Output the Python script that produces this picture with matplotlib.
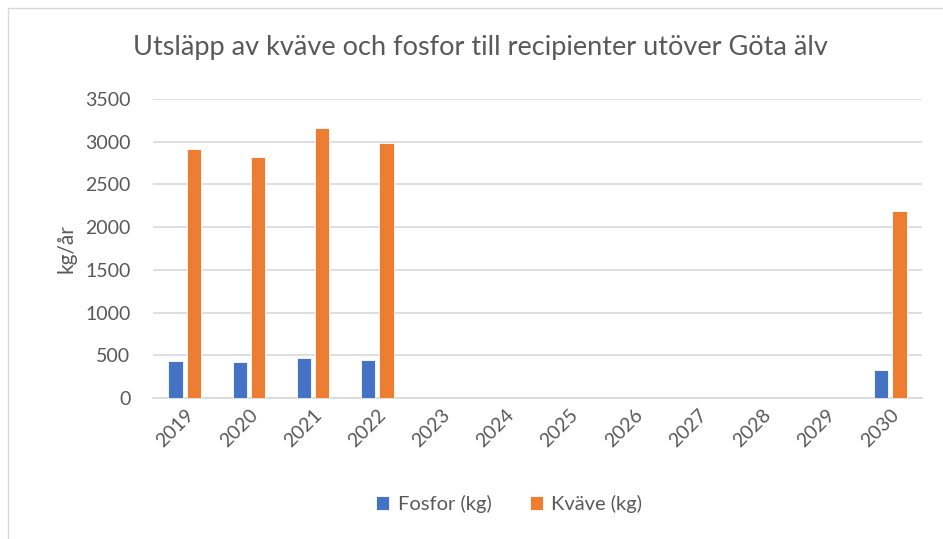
import numpy as np
import matplotlib.pyplot as plt
from matplotlib.patches import Rectangle

years = ['2019', '2020', '2021', '2022', '2023', '2024', '2025', '2026',
         '2027', '2028', '2029', '2030']
fosfor = [433, 417, 469, 441, 0, 0, 0, 0, 0, 0, 0, 322]
kvave = [2910, 2820, 3155, 2980, 0, 0, 0, 0, 0, 0, 0, 2185]

plt.rcParams['font.family'] = ['Lato', 'DejaVu Sans']

fig = plt.figure(figsize=(9.43, 5.39), dpi=100)
ax = fig.add_axes([0.162, 0.2616, 0.816, 0.5547])

x = np.arange(len(years))
w = 0.22
ax.bar(x - 0.145, fosfor, width=w, color='#4472c4', edgecolor='white', linewidth=0.6,
       label='Fosfor (kg)', zorder=3)
ax.bar(x + 0.145, kvave, width=w, color='#ed7d31', edgecolor='white', linewidth=0.6,
       label='Kväve (kg)', zorder=3)

ax.set_xlim(-0.5, len(years) - 0.5)
ax.set_ylim(0, 3500)
ax.set_yticks(range(0, 3501, 500))
ax.set_xticks(x)
ax.set_xticklabels(years, rotation=45, ha='right', rotation_mode='anchor')
ax.tick_params(axis='both', length=0, labelsize=14, colors='#595959')
ax.tick_params(axis='y', pad=16)
ax.tick_params(axis='x', pad=6)
ax.grid(axis='y', color='#d9d9d9', linewidth=1.2, zorder=0)
for s in ['top', 'right', 'left']:
    ax.spines[s].set_visible(False)
ax.spines['bottom'].set_color('#d9d9d9')
ax.spines['bottom'].set_linewidth(1.2)

ax.set_ylabel('kg/år', fontsize=15, color='#595959', labelpad=6)
fig.text(0.51, 0.912, 'Utsläpp av kväve och fosfor till recipienter utöver Göta älv',
         ha='center', va='center', fontsize=19.5, color='#595959')

ax.legend(loc='center', bbox_to_anchor=(0.463, -0.355), ncol=2, frameon=False,
          fontsize=14.5, handlelength=0.65, handleheight=0.65, columnspacing=1.9,
          handletextpad=0.4, labelcolor='#595959')

fig.patches.append(Rectangle((0.009, -0.01), 1.2, 0.995, transform=fig.transFigure,
                             fill=False, edgecolor='#d9d9d9', linewidth=1))

fig.savefig('out.png', dpi=100)
